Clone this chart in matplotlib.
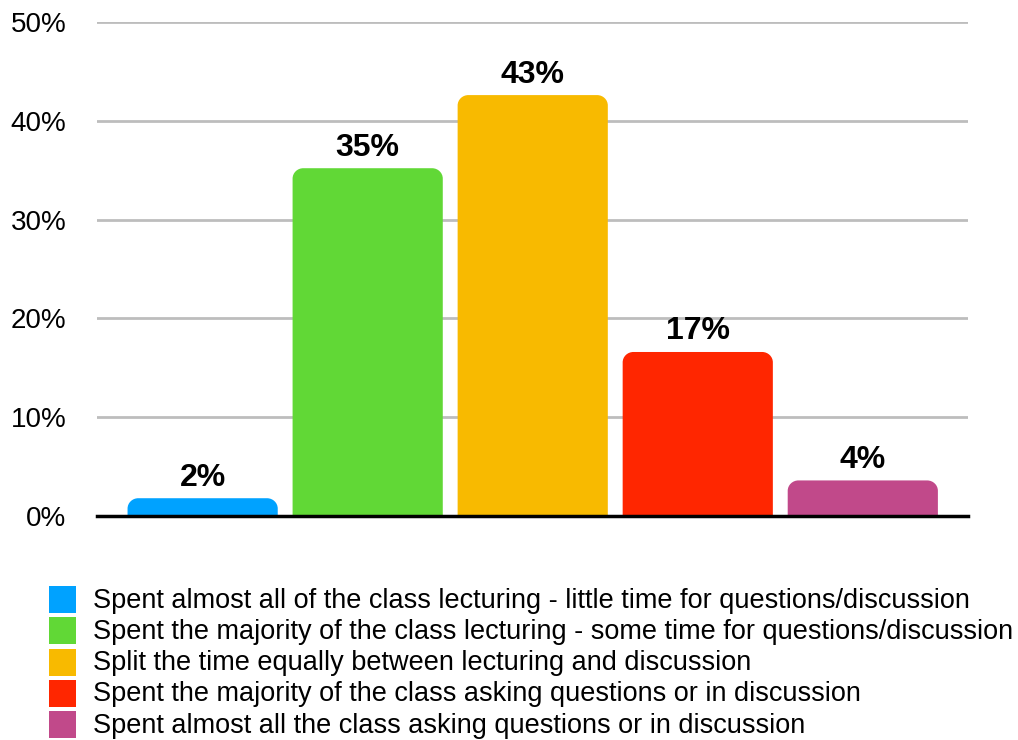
import matplotlib.pyplot as plt
from matplotlib.path import Path
from matplotlib.patches import PathPatch, Rectangle

plt.rcParams['font.family'] = ['Liberation Sans', 'DejaVu Sans']

categories = [
    "Spent almost all of the class lecturing - little time for questions/discussion",
    "Spent the majority of the class lecturing - some time for questions/discussion",
    "Split the time equally between lecturing and discussion",
    "Spent the majority of the class asking questions or in discussion",
    "Spent almost all the class asking questions or in discussion",
]
percentages = [1.8, 35.2, 42.6, 16.6, 3.6]
colors = ["#00A2FF", "#61D836", "#F8BA00", "#FF2600", "#C1498A"]
y_ticks = [0, 10, 20, 30, 40, 50]


def rounded_bar(ax, x, height, width, rx, ry, color):
    # bar with rounded top corners; rx/ry are radii in data units
    k = 0.5523
    x0, x1 = x - width / 2, x + width / 2
    ry = min(ry, height)
    verts = [
        (x0, 0), (x0, height - ry),
        (x0, height - ry + k * ry), (x0 + rx - k * rx, height), (x0 + rx, height),
        (x1 - rx, height),
        (x1 - rx + k * rx, height), (x1, height - ry + k * ry), (x1, height - ry),
        (x1, 0), (x0, 0),
    ]
    codes = [Path.MOVETO, Path.LINETO,
             Path.CURVE4, Path.CURVE4, Path.CURVE4,
             Path.LINETO,
             Path.CURVE4, Path.CURVE4, Path.CURVE4,
             Path.LINETO, Path.CLOSEPOLY]
    ax.add_patch(PathPatch(Path(verts, codes), facecolor=color, edgecolor='none', zorder=3))


fig = plt.figure(figsize=(10.18, 7.4), dpi=100)
ax = fig.add_axes([0.0953, 0.3027, 0.856, 0.6676])

ax.set_xlim(-0.64, 4.64)
ax.set_ylim(0, 50)

bar_w = 0.91
for i, (val, col) in enumerate(zip(percentages, colors)):
    rounded_bar(ax, i, val, bar_w, 0.065, 1.05, col)
    ax.annotate(f"{val:.0f}%", (i, val), xytext=(0, 9), textcoords='offset points',
                ha='center', va='baseline', fontsize=23, fontweight='bold')

ax.set_yticks(y_ticks)
ax.set_yticklabels([f"{t}%" for t in y_ticks], fontsize=20)
ax.tick_params(axis='y', length=0, pad=22)
ax.set_xticks([])
ax.grid(axis='y', color='#bdbdbd', linewidth=2, zorder=0)
ax.set_axisbelow(True)
for side in ['top', 'right', 'left']:
    ax.spines[side].set_visible(False)
ax.spines['bottom'].set_linewidth(2.5)
ax.spines['bottom'].set_zorder(4)

# legend drawn by hand below the plot
W, H = 1018, 740
row_y = 599.5
for label, col in zip(categories, colors):
    fig.add_artist(Rectangle((49 / W, 1 - (row_y + 13.5) / H), 27 / W, 27 / H,
                             transform=fig.transFigure, facecolor=col, edgecolor='none'))
    fig.text(93 / W, 1 - (row_y + 1) / H, label, ha='left', va='center', fontsize=19.5)
    row_y += 31.3

fig.savefig('out.png', dpi=100)
